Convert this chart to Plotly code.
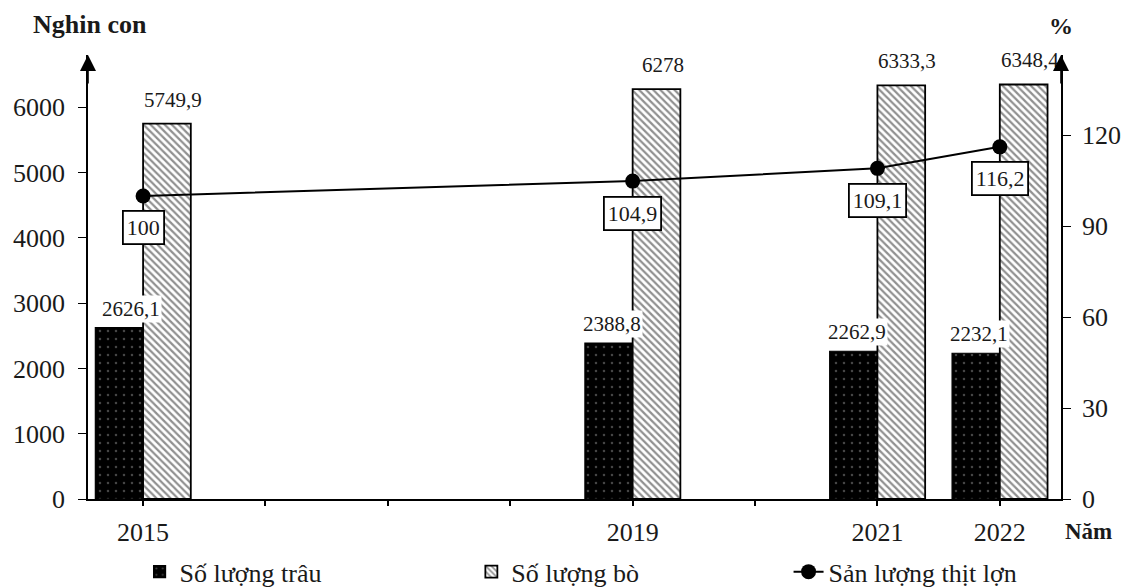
import plotly.graph_objects as go

years = [2015, 2019, 2021, 2022]
trau = [2626.1, 2388.8, 2262.9, 2232.1]
bo = [5749.9, 6278, 6333.3, 6348.4]
thit_lon = [100, 104.9, 109.1, 116.2]
left_ticks = [0, 1000, 2000, 3000, 4000, 5000, 6000]
right_ticks = [0, 30, 60, 90, 120]

FONT = "Liberation Serif"
BW = 0.39
INK = "#1a1a1a"


def vn(v):
    s = f"{v:g}"
    return s.replace(".", ",")


fig = go.Figure()
fig.add_trace(go.Bar(
    x=years, y=trau, name="Số lượng trâu", offset=-BW, width=BW, legend="legend",
    marker=dict(color="black", line=dict(color="black", width=1.2),
                pattern=dict(shape=".", fillmode="overlay", fgcolor="#8a8a8a",
                             bgcolor="black", size=8, solidity=0.08)),
))
fig.add_trace(go.Bar(
    x=years, y=bo, name="Số lượng bò", offset=0, width=BW, legend="legend2",
    marker=dict(color="white", line=dict(color="black", width=1.8),
                pattern=dict(shape="\\", fillmode="overlay", fgcolor="#222222",
                             bgcolor="white", size=5, solidity=0.45)),
))
fig.add_trace(go.Scatter(
    x=years, y=thit_lon, name="Sản lượng thịt lợn", yaxis="y2", legend="legend3",
    mode="lines+markers", line=dict(color="black", width=2),
    marker=dict(color="black", size=15), cliponaxis=False,
))

ann = []
for i, (yr, v) in enumerate(zip(years, trau)):
    ann.append(dict(x=yr - BW / 2, y=v, xref="x", yref="y", text=vn(v),
                    showarrow=False, yanchor="bottom", yshift=5,
                    xshift=12 if i == 0 else 3, bgcolor="white",
                    font=dict(family=FONT, size=21, color=INK)))
for yr, v in zip(years, bo):
    ann.append(dict(x=yr + BW / 2, y=v, xref="x", yref="y", text=vn(v),
                    showarrow=False, yanchor="bottom", yshift=10, xshift=6,
                    font=dict(family=FONT, size=21, color=INK)))
for yr, v in zip(years, thit_lon):
    ann.append(dict(x=yr, y=v, xref="x", yref="y2", text=vn(v),
                    showarrow=False, yshift=-32, bgcolor="white",
                    bordercolor="black", borderwidth=1.8, borderpad=3,
                    font=dict(family=FONT, size=22, color=INK)))
# axis arrows
for xp in [0, 1]:
    ann.append(dict(x=xp, y=1, xref="paper", yref="paper", ax=0, ay=30,
                    showarrow=True, arrowhead=2, arrowsize=2, arrowwidth=1.6,
                    arrowcolor="black", text=""))
ann.append(dict(x=0, y=1, xref="paper", yref="paper", text="<b>Nghin con</b>",
                showarrow=False, xanchor="center", yanchor="bottom", yshift=14, xshift=2,
                font=dict(family=FONT, size=26, color=INK)))
ann.append(dict(x=1, y=1, xref="paper", yref="paper", text="<b>%</b>",
                showarrow=False, xanchor="center", yanchor="bottom", yshift=14,
                font=dict(family=FONT, size=24, color=INK)))
ann.append(dict(x=1, y=0, xref="paper", yref="paper", text="<b>Năm</b>",
                showarrow=False, xanchor="left", yanchor="top", xshift=2, yshift=-18,
                font=dict(family=FONT, size=23, color=INK)))

all_years = list(range(min(years), max(years) + 1))
tick_text = [str(y) if y in years else "" for y in all_years]

leg_common = dict(orientation="h", yref="container", y=0.026, yanchor="middle",
                  xanchor="left", bgcolor="rgba(0,0,0,0)",
                  font=dict(family=FONT, size=26, color=INK))
axis_font = dict(family=FONT, size=26, color=INK)

fig.update_layout(
    width=1132, height=587,
    margin=dict(l=88, r=71, t=55, b=88),
    paper_bgcolor="white", plot_bgcolor="white",
    barmode="overlay",
    font=dict(family=FONT, size=26, color=INK),
    showlegend=True,
    legend=dict(x=0.053, **leg_common),
    legend2=dict(x=0.394, **leg_common),
    legend3=dict(x=0.72, **leg_common),
    xaxis=dict(range=[2014.55, 2022.5], tickvals=all_years, ticktext=tick_text,
               showline=True, linecolor="black", linewidth=1.6, ticks="outside",
               ticklen=5, tickwidth=1.6, tickcolor="black", showgrid=False,
               zeroline=False, tickfont=axis_font, ticklabelstandoff=4,
               automargin=False),
    yaxis=dict(range=[0, 6800], tickvals=left_ticks, showline=True,
               linecolor="black", linewidth=1.6, ticks="outside", ticklen=8,
               tickwidth=1.2, tickcolor="black", showgrid=False, zeroline=False,
               tickfont=axis_font, ticklabelstandoff=8, automargin=False),
    yaxis2=dict(range=[0, 146.5], tickvals=right_ticks, overlaying="y", side="right",
                showline=True, linecolor="black", linewidth=1.6, ticks="outside",
                ticklen=8, tickwidth=1.2, tickcolor="black", showgrid=False,
                zeroline=False, tickfont=axis_font, ticklabelstandoff=6,
                automargin=False),
    annotations=ann,
)

fig.write_html("out.html", config={"displayModeBar": False},
               post_script="document.body.style.margin='0';")
